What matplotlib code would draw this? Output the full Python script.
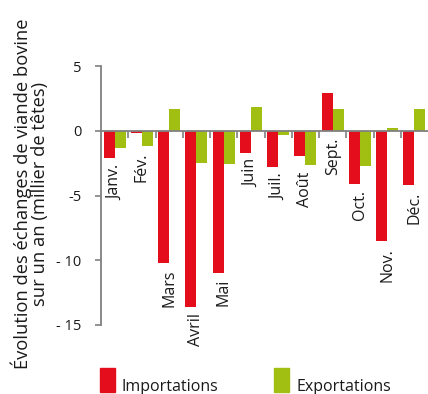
import matplotlib
matplotlib.use("Agg")
import matplotlib.pyplot as plt
from matplotlib.patches import Rectangle
import numpy as np

plt.rcParams["font.family"] = ["Open Sans", "DejaVu Sans"]

months = ["Janv.", "Fév.", "Mars", "Avril", "Mai", "Juin",
          "Juil.", "Août", "Sept.", "Oct.", "Nov.", "Déc."]
imports = [-2.1, -0.15, -10.25, -13.6, -10.95, -1.7,
           -2.8, -1.95, 2.95, -4.1, -8.55, -4.2]
exports = [-1.35, -1.2, 1.7, -2.5, -2.55, 1.85,
           -0.35, -2.65, 1.7, -2.7, 0.2, 1.7]
yticks = [5, 0, -5, -10, -15]
ytick_labels = ["5", "0", "-5", "- 10", "- 15"]

red = "#e30d1b"
green = "#a1be12"
grey = "#808080"

fig = plt.figure(figsize=(4.28, 3.94), dpi=100)
ax = fig.add_axes([101 / 428, 1 - 325 / 394, 1 - 101 / 428, (325 - 66) / 394])

x = np.arange(len(months))
ax.bar(x + 0.1, imports, width=0.4, align="edge", color=red, zorder=2)
ax.bar(x + 0.5, exports, width=0.4, align="edge", color=green, zorder=2)

ax.set_xlim(0, len(months))
ax.set_ylim(-15, 5)
ax.set_yticks(yticks)
ax.set_yticklabels(ytick_labels, fontsize=10.5, color="#1a1a1a")
ax.set_xticks(x[1:])
ax.set_xticklabels([])

for side in ["top", "right"]:
    ax.spines[side].set_visible(False)
ax.spines["bottom"].set_position(("data", 0))
ax.spines["bottom"].set_zorder(3)
for side in ["left", "bottom"]:
    ax.spines[side].set_color(grey)
    ax.spines[side].set_linewidth(1.3)
ax.tick_params(axis="y", length=4, width=1.2, color=grey, pad=10)
ax.tick_params(axis="x", length=5, width=1.2, color=grey, direction="out")

# month names sit just under the lowest bar of each pair
for i, name in enumerate(months):
    low = min(0, imports[i], exports[i])
    ax.text(i + 0.5, low - 0.5, name, rotation=90, ha="center", va="top",
            fontsize=11.5, color="#1a1a1a", clip_on=False)

fig.text(0.07, 0.508, "Évolution des échanges de viande bovine\nsur un an (millier de têtes)",
         rotation=90, ha="center", va="center", multialignment="center",
         fontsize=13.2, color="#1a1a1a", linespacing=0.95)

# legend
for x0, color, label in [(100, red, "Importations"), (274, green, "Exportations")]:
    fig.add_artist(Rectangle((x0 / 428, 2 / 394), 15 / 428, 24 / 394,
                             transform=fig.transFigure, color=color))
    fig.text((x0 + 22) / 428, 3 / 394, label, ha="left", va="baseline",
             fontsize=11.5, color="#1a1a1a")

fig.savefig("out.png", dpi=100)
